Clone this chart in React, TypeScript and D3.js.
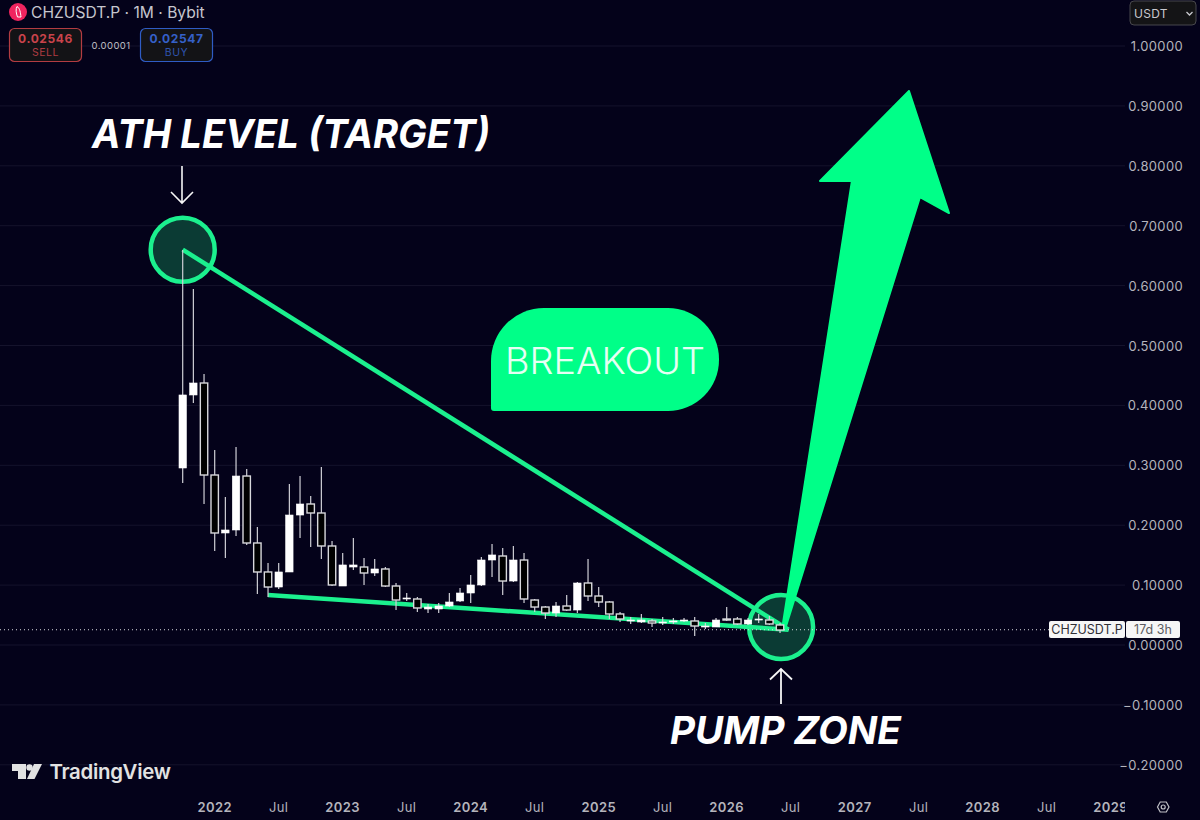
import React from "react";
import * as d3 from "d3";

const WIDTH = 1200;
const HEIGHT = 820;
const PANE_RIGHT = 1125;
const BG = "#04021a";
const GRID = "#15132c";
const GREEN = "#1bf08e";
const ARROW_GREEN = "#00ff88";
const AXIS_TEXT = "#b4b4bc";
const FONT = "Inter, 'Noto Sans', sans-serif";

// monthly candles, month 0 = Oct 2021
const opens = [
  0.2955, 0.4174, 0.4374, 0.2838, 0.187, 0.192, 0.2821, 0.1703, 0.1219, 0.0968, 0.1219, 0.217,
  0.2354, 0.2204, 0.1653, 0.0985, 0.1302, 0.1302, 0.1202, 0.1269, 0.0985, 0.0768, 0.0768, 0.0601,
  0.0601, 0.0651, 0.0735, 0.0868, 0.1002, 0.1419, 0.1486, 0.1068, 0.1419, 0.0751, 0.0634, 0.0534,
  0.0651, 0.0584, 0.1035, 0.0818, 0.0718, 0.0518, 0.0401, 0.0384, 0.0401, 0.0367, 0.0384, 0.0401,
  0.0401, 0.0301, 0.0301, 0.0434, 0.0434, 0.0351, 0.0417, 0.0417, 0.0334,
];
const highs = [
  0.6594, 0.5943, 0.4524, 0.3255, 0.2471, 0.3306, 0.2938, 0.197, 0.1369, 0.1369, 0.2688, 0.2821,
  0.2487, 0.2972, 0.1736, 0.1536, 0.1786, 0.1452, 0.1436, 0.1302, 0.1035, 0.0868, 0.0801, 0.0684,
  0.0701, 0.0868, 0.0952, 0.1169, 0.1469, 0.1686, 0.1619, 0.1653, 0.1536, 0.0768, 0.0651, 0.0718,
  0.0835, 0.1052, 0.1436, 0.0968, 0.0735, 0.0551, 0.0467, 0.0518, 0.0434, 0.0467, 0.0451, 0.0451,
  0.0467, 0.0367, 0.0451, 0.0634, 0.0467, 0.0451, 0.0518, 0.0484, 0.0367,
];
const lows = [
  0.2705, 0.404, 0.2354, 0.1569, 0.1452, 0.182, 0.1669, 0.0851, 0.0801, 0.0935, 0.1219, 0.1786,
  0.1636, 0.1436, 0.0985, 0.0985, 0.1252, 0.1002, 0.1152, 0.0968, 0.0584, 0.0735, 0.0551, 0.0534,
  0.0534, 0.0634, 0.0718, 0.0701, 0.0985, 0.1135, 0.0835, 0.1052, 0.0701, 0.0551, 0.0434, 0.0467,
  0.0568, 0.0534, 0.0735, 0.0634, 0.0434, 0.0384, 0.0351, 0.0367, 0.0301, 0.0334, 0.0351, 0.0384,
  0.015, 0.0267, 0.0301, 0.0401, 0.0334, 0.0334, 0.0367, 0.0334, 0.02,
];
const closes = [
  0.4174, 0.4374, 0.2838, 0.187, 0.192, 0.2821, 0.1703, 0.1219, 0.0968, 0.1219, 0.217, 0.2354,
  0.2204, 0.1653, 0.1002, 0.1336, 0.1336, 0.1202, 0.1269, 0.0985, 0.0751, 0.0785, 0.0618, 0.0634,
  0.0651, 0.0718, 0.0868, 0.1002, 0.1419, 0.1503, 0.1068, 0.1419, 0.0768, 0.0634, 0.0534, 0.0651,
  0.0584, 0.1035, 0.0818, 0.0718, 0.0518, 0.0434, 0.0417, 0.0417, 0.0367, 0.0384, 0.0401, 0.0417,
  0.0317, 0.0317, 0.0417, 0.0417, 0.0351, 0.0417, 0.0434, 0.0351, 0.025,
];

const priceTicks = [1, 0.9, 0.8, 0.7, 0.6, 0.5, 0.4, 0.3, 0.2, 0.1, 0, -0.1, -0.2];
const timeTicks: [number, string][] = [
  [3, "2022"], [9, "Jul"], [15, "2023"], [21, "Jul"], [27, "2024"], [33, "Jul"], [39, "2025"], [45, "Jul"],
  [51, "2026"], [57, "Jul"], [63, "2027"], [69, "Jul"], [75, "2028"], [81, "Jul"], [87, "2029"],
];
const lastPrice = 0.02546;

// annotations, [month, price]
const athLine: [number, number][] = [[0, 0.66], [56.8, 0.0255]];
const supportLine: [number, number][] = [[8, 0.0835], [56.8, 0.0255]];
const athCircle: [number, number] = [0, 0.66];
const pumpCircle: [number, number] = [56.1, 0.03];
const arrowShape: [number, number][] = [
  [68.09, 0.9249], [59.75, 0.7746], [62.74, 0.7746], [56.18, 0.025],
  [56.45, 0.025], [69.12, 0.7479], [71.84, 0.7212],
];

const x = d3.scaleLinear().domain([0, 87]).range([182.7, 1110.7]);
const y = d3.scaleLinear().domain([1, -0.2]).range([46, 764.8]);
const toLine = d3.line<[number, number]>().x((d) => x(d[0])).y((d) => y(d[1]));

const fmtPrice = (v: number) => (v < 0 ? "\u2212" : "") + d3.format(".5f")(Math.abs(v));

function OrderBox({ left, price, label, stroke, color }: any) {
  return (
    <g>
      <rect x={left} y={28.5} width={72} height={33} rx={5} fill="#131316" stroke={stroke} strokeWidth={1.2} />
      <text x={left + 36} y={43} textAnchor="middle" fontSize={12} fontWeight={700} letterSpacing={0.6} fill={color}>{price}</text>
      <text x={left + 36} y={56} textAnchor="middle" fontSize={10.5} letterSpacing={0.5} fill={color} opacity={0.85}>{label}</text>
    </g>
  );
}

export default function App() {
  const barW = 7.4;
  return (
    <svg width={WIDTH} height={HEIGHT} style={{ position: "absolute", left: 0, top: 0, display: "block" }} fontFamily={FONT}>
      <defs>
        <clipPath id="time-clip"><rect x={0} y={790} width={PANE_RIGHT} height={30} /></clipPath>
      </defs>
      <rect width={WIDTH} height={HEIGHT} fill={BG} />

      {/* grid */}
      {priceTicks.map((t) => (
        <line key={t} x1={0} x2={PANE_RIGHT} y1={y(t)} y2={y(t)} stroke={GRID} strokeWidth={1} />
      ))}

      {/* drawings */}
      <circle cx={x(athCircle[0])} cy={y(athCircle[1])} r={32} fill="#0b3b34" stroke={GREEN} strokeWidth={4.5} />
      <circle cx={x(pumpCircle[0])} cy={y(pumpCircle[1])} r={32} fill="#0b3b34" stroke={GREEN} strokeWidth={4.5} />
      <path d={toLine(athLine)!} stroke={GREEN} strokeWidth={4.5} fill="none" />
      <path d={toLine(supportLine)!} stroke={GREEN} strokeWidth={4.5} fill="none" />
      <path d={toLine(arrowShape)! + "Z"} fill={ARROW_GREEN} stroke={ARROW_GREEN} strokeWidth={2} strokeLinejoin="round" />

      {/* last price */}
      <line x1={0} x2={1049} y1={y(lastPrice)} y2={y(lastPrice)} stroke="#d8d8dc" strokeWidth={1} strokeDasharray="1 3" />

      {/* candles */}
      {closes.map((c, i) => {
        const up = c >= opens[i];
        const top = y(Math.max(c, opens[i]));
        const bot = y(Math.min(c, opens[i]));
        return (
          <g key={i}>
            <line x1={x(i)} x2={x(i)} y1={y(highs[i])} y2={y(lows[i])} stroke="#d0d0d6" strokeWidth={1.2} />
            <rect
              x={x(i) - barW / 2}
              y={top}
              width={barW}
              height={Math.max(bot - top, 1)}
              fill={up ? "#ffffff" : "#000000"}
              stroke={up ? "#ffffff" : "#d8d8dc"}
              strokeWidth={up ? 0.6 : 1.4}
            />
          </g>
        );
      })}

      {/* hand arrows */}
      <g stroke="#f6f6f6" fill="none">
        <path d="M182 166V203M171 192L182 203L193 192" strokeWidth={1.6} />
        <path d="M781 704V669M770 679.5L781 669L792 679.5" strokeWidth={1.8} />
      </g>

      {/* call-outs */}
      <text x={92} y={148} fontSize={40} fontWeight={700} fontStyle="italic" fill="#ffffff" textLength={398} lengthAdjust="spacingAndGlyphs">ATH LEVEL (TARGET)</text>
      <text x={670} y={744} fontSize={38} fontWeight={700} fontStyle="italic" fill="#ffffff" textLength={231} lengthAdjust="spacingAndGlyphs">PUMP ZONE</text>
      <path d="M544 308H668A51 51 0 0 1 719 359V360A51 51 0 0 1 668 411H494A3 3 0 0 1 491 408V361A53 53 0 0 1 544 308Z" fill={ARROW_GREEN} />
      <text x={505} y={374} fontSize={37} fontWeight={350} fill="#e6fff4" textLength={200} lengthAdjust="spacingAndGlyphs">BREAKOUT</text>

      {/* header */}
      <circle cx={18} cy={12} r={9} fill="#f0245f" />
      <path d="M17 6.5C20 8 20.5 13 21 17L17.5 17C16 13 15.5 9 17 6.5Z" fill="none" stroke="#ffffff" strokeWidth={1} />
      <text x={31} y={17.5} fontSize={15.6} fill="#c6c6ce">CHZUSDT.P · 1M · Bybit</text>
      <OrderBox left={9.5} price="0.02546" label="SELL" stroke="#b33c42" color="#c9434b" />
      <text x={111} y={49} textAnchor="middle" fontSize={9.5} letterSpacing={0.4} fill="#c0c0c6">0.00001</text>
      <OrderBox left={140.5} price="0.02547" label="BUY" stroke="#2f5cc4" color="#3560c8" />

      {/* currency */}
      <rect x={1130} y={1} width={66} height={24} rx={4} fill="#141416" stroke="#47474c" strokeWidth={1} />
      <text x={1134} y={18} fontSize={12} letterSpacing={0.3} fill="#c8c8ce">USDT</text>
      <path d="M1186.5 12L1189.5 15L1192.5 12" stroke="#c8c8ce" strokeWidth={1.3} fill="none" />

      {/* price axis */}
      {priceTicks.map((t) => (
        <text key={t} x={1183} y={y(t) + 5} textAnchor="end" fontSize={13} letterSpacing={0.35} fill={AXIS_TEXT}>{fmtPrice(t)}</text>
      ))}
      <rect x={1049} y={621} width={76} height={17} rx={2} fill="#f6f6f6" />
      <rect x={1126} y={621} width={54} height={17} rx={2} fill="#f6f6f6" />
      <text x={1087} y={634} textAnchor="middle" fontSize={12.5} fill="#303036">CHZUSDT.P</text>
      <text x={1153} y={634} textAnchor="middle" fontSize={12.5} fill="#5c5c62">17d 3h</text>

      {/* time axis */}
      <g clipPath="url(#time-clip)">
        {timeTicks.map(([m, label]) => (
          <text key={m} x={x(m)} y={812} textAnchor="middle" fontSize={13} letterSpacing={0.4} fontWeight={label === "Jul" ? 400 : 600} fill={AXIS_TEXT}>{label}</text>
        ))}
      </g>
      <path d="M1157.5 807L1160.2 802H1166.3L1169 807L1166.3 812H1160.2Z" fill="none" stroke="#c0c0c6" strokeWidth={1.2} />
      <circle cx={1163.2} cy={807} r={2} fill="none" stroke="#c0c0c6" strokeWidth={1.2} />

      {/* logo */}
      <g fill="#e2e2e2">
        <path d="M12 764H26V779H18V771H12Z" />
        <circle cx={29.5} cy={767.5} r={3.2} />
        <path d="M34 764H42L34.5 779H27Z" />
      </g>
      <text x={49.5} y={779} fontSize={20.4} fontWeight={600} letterSpacing={-0.3} fill="#e2e2e2">TradingView</text>
    </svg>
  );
}
